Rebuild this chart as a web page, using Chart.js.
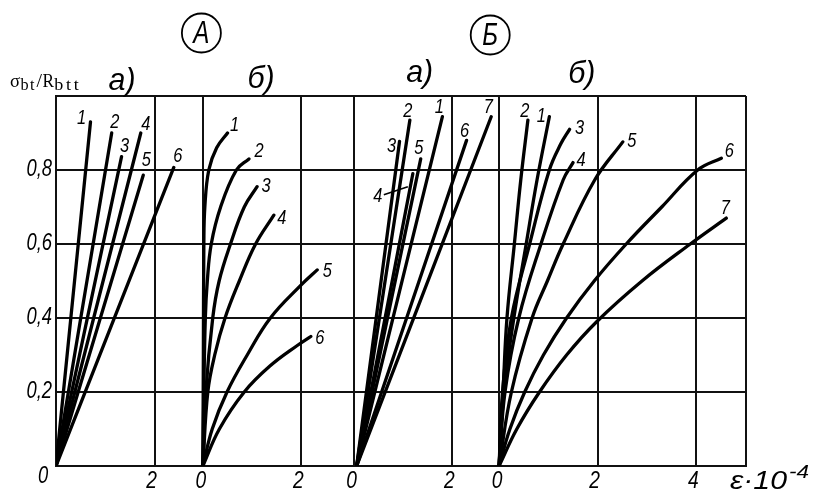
<!DOCTYPE html>
<html><head><meta charset="utf-8">
<script src="https://cdn.jsdelivr.net/npm/chart.js@4"></script>
<style>html,body{margin:0;padding:0;background:#fff}#c{display:block}</style>
</head><body>
<canvas id="c" width="813" height="493"></canvas>
<script>
// ---- data (strain ε·10^-4 on x, relative stress σbt/Rbtt on y) ----
const groupNames = ['А', 'Б'];
const panelNames = ['а)', 'б)', 'а)', 'б)'];
const panelStarts = [0, 2.98, 6.04, 8.99];   // where each panel's ε = 0 sits on the shared axis
const xMax = 14;
const panelLocalTicks = [[2], [2], [2], [2, 4]];
const yTickValues = [0, 0.2, 0.4, 0.6, 0.8, 1.0];
const yTickLabels = ['0', '0,2', '0,4', '0,6', '0,8', ''];

const namesAa = ['1', '2', '3', '4', '5', '6'];
const curvesAa = [
  [[0, 0], [0.70, 0.93]],
  [[0, 0], [1.13, 0.90]],
  [[0, 0], [1.33, 0.836]],
  [[0, 0], [1.72, 0.90]],
  [[0, 0], [1.77, 0.786]],
  [[0, 0], [2.39, 0.807]]
];
const namesAb = ['1', '2', '3', '4', '5', '6'];
const curvesAb = [
  [[0, 0], [0.01, 0.3], [0.02, 0.6], [0.04, 0.7], [0.12, 0.8], [0.28, 0.86], [0.50, 0.90]],
  [[0, 0], [0.02, 0.2], [0.05, 0.4], [0.09, 0.5], [0.17, 0.6], [0.36, 0.7], [0.68, 0.8], [0.935, 0.83]],
  [[0, 0], [0.06, 0.2], [0.20, 0.4], [0.33, 0.5], [0.56, 0.6], [0.84, 0.7], [1.10, 0.755]],
  [[0, 0], [0.10, 0.2], [0.24, 0.3], [0.45, 0.4], [0.74, 0.5], [1.07, 0.6], [1.44, 0.678]],
  [[0, 0], [0.19, 0.1], [0.49, 0.2], [0.90, 0.3], [1.37, 0.4], [2.0, 0.49], [2.32, 0.53]],
  [[0, 0], [0.335, 0.1], [0.84, 0.2], [1.36, 0.27], [1.93, 0.327], [2.19, 0.35]]
];
const namesBa = ['1', '2', '3', '4', '5', '6', '7'];
const curvesBa = [
  [[0.06, 0], [1.80, 0.944]],
  [[0.06, 0], [1.14, 0.935]],
  [[0.06, 0], [0.93, 0.877]],
  [[0.06, 0], [1.20, 0.79]],
  [[0.06, 0], [1.36, 0.83]],
  [[0.06, 0], [2.29, 0.88]],
  [[0.06, 0], [2.79, 0.944]]
];
const namesBb = ['1', '2', '3', '4', '5', '6', '7'];
const curvesBb = [
  [[0, 0], [0.10, 0.2], [0.30, 0.4], [0.55, 0.6], [0.77, 0.773], [1.02, 0.944]],
  [[0, 0], [0.08, 0.2], [0.16, 0.4], [0.31, 0.6], [0.44, 0.773], [0.585, 0.935]],
  [[0, 0], [0.07, 0.2], [0.25, 0.4], [0.62, 0.6], [1.02, 0.8], [1.25, 0.87], [1.43, 0.91]],
  [[0, 0], [0.12, 0.2], [0.40, 0.4], [0.85, 0.6], [1.30, 0.773], [1.50, 0.82]],
  [[0, 0], [0.25, 0.2], [0.67, 0.4], [0.98, 0.5], [1.30, 0.6], [1.94, 0.773], [2.51, 0.876]],
  [[0, 0], [0.22, 0.1], [0.52, 0.2], [0.90, 0.3], [1.37, 0.4], [1.93, 0.5], [2.58, 0.6], [3.30, 0.7], [4.03, 0.8], [4.51, 0.832]],
  [[0, 0], [0.36, 0.1], [0.82, 0.2], [1.37, 0.3], [1.98, 0.39], [2.90, 0.5], [3.88, 0.6], [4.61, 0.67]]
];

// ---- styles (label offsets in px from curve end) ----
const labelOffsets = [
  [[-9, -3], [3, -11], [3, -10], [5, -9], [3, -15], [4, -11]],
  [[7, -8], [10, -7], [9, 0], [8, 3], [10, 2], [9, 2]],
  [[-3, -9], [-2, -9], [-8, 5], [-35, 23], [-2, -10], [-2, -9], [-3, -9]],
  [[-8, 0], [-3, -9], [10, -1], [8, -2], [9, 0], [8, -7], [-1, -10]]
];
const panelCurves = [curvesAa, curvesAb, curvesBa, curvesBb];
const panelCurveNames = [namesAa, namesAb, namesBa, namesBb];
const titleLocalX = [1.34, 1.18, 1.34, 1.68];
const titleY = [81, 79, 73, 74];
const groupX = [2.95, 8.81];
const groupY = [33, 35];

const xTickValues = [];
panelStarts.forEach((s, p) => { xTickValues.push(s); panelLocalTicks[p].forEach(t => xTickValues.push(s + t)); });
xTickValues.push(xMax);

const datasets = [];
panelCurves.forEach((curves, p) => {
  curves.forEach((pts, i) => {
    datasets.push({
      label: panelNames[p] + ' ' + panelCurveNames[p][i],
      data: pts.map(([x, y]) => ({ x: panelStarts[p] + x, y: y })),
      showLine: true, borderColor: '#000', borderWidth: 3.3, pointRadius: 0,
      tension: 0.4, borderCapStyle: 'round', borderJoinStyle: 'round', fill: false,
      _panel: p, _idx: i
    });
  });
});

const FONT = '"Liberation Sans", Arial, sans-serif';
function txt(ctx, s, x, y, size, sx, align, italic) {
  ctx.save();
  ctx.translate(x, y);
  ctx.scale(sx, 1);
  ctx.font = (italic === false ? '' : 'italic ') + size + 'px ' + FONT;
  ctx.textAlign = align || 'center';
  ctx.textBaseline = 'middle';
  ctx.fillStyle = '#000';
  ctx.fillText(s, 0, 0);
  ctx.restore();
}
function fitText(ctx, s, x, baseY, font, width, spacing) {
  ctx.save();
  ctx.font = font;
  if (spacing && 'letterSpacing' in ctx) ctx.letterSpacing = spacing + 'px';
  const w = ctx.measureText(s).width;
  ctx.translate(x, baseY);
  ctx.scale(width / w, 1);
  ctx.textAlign = 'left';
  ctx.textBaseline = 'alphabetic';
  ctx.fillStyle = '#000';
  ctx.fillText(s, 0, 0);
  ctx.restore();
}

const annot = {
  id: 'annot',
  afterDraw(chart) {
    const ctx = chart.ctx, xs = chart.scales.x, ys = chart.scales.y;
    // curve numbers
    chart.data.datasets.forEach(ds => {
      const end = ds.data[ds.data.length - 1];
      const px = xs.getPixelForValue(end.x), py = ys.getPixelForValue(end.y);
      const off = labelOffsets[ds._panel][ds._idx];
      txt(ctx, panelCurveNames[ds._panel][ds._idx], px + off[0], py + off[1], 20, 0.82, 'center');
      if (ds._panel === 2 && ds._idx === 3) {
        ctx.save(); ctx.strokeStyle = '#000'; ctx.lineWidth = 1.6;
        ctx.beginPath(); ctx.moveTo(px + off[0] + 6, py + off[1] - 2); ctx.lineTo(px - 5, py + 13); ctx.stroke();
        ctx.restore();
      }
    });
    // y tick labels
    yTickValues.forEach((v, i) => {
      if (!yTickLabels[i]) return;
      if (v === 0) { txt(ctx, yTickLabels[i], 43, ys.getPixelForValue(0) + 11, 23, 0.8, 'center'); return; }
      txt(ctx, yTickLabels[i], 52, ys.getPixelForValue(v), 23, 0.8, 'right');
    });
    // x tick labels
    const by = ys.getPixelForValue(0) + 15;
    panelStarts.forEach((s, p) => {
      if (p > 0) txt(ctx, '0', xs.getPixelForValue(s) - 2, by, 24, 0.8, 'center');
      panelLocalTicks[p].forEach(t => txt(ctx, String(t), xs.getPixelForValue(s + t) - 3, by, 24, 0.8, 'center'));
    });
    // axis unit ε·10^-4
    fitText(ctx, 'ε·10', 730, by + 8, 'italic 25px ' + FONT, 57);
    fitText(ctx, '-4', 789, by - 3, 'italic 18px ' + FONT, 20);
    // panel titles
    panelStarts.forEach((s, p) => {
      txt(ctx, panelNames[p], xs.getPixelForValue(s + titleLocalX[p]), titleY[p], 32, 0.95, 'center');
    });
    // circled group letters
    groupNames.forEach((g, i) => {
      const cx = xs.getPixelForValue(groupX[i]), cy = groupY[i];
      ctx.save(); ctx.strokeStyle = '#000'; ctx.lineWidth = 1.8;
      ctx.beginPath(); ctx.arc(cx, cy, 19.5, 0, Math.PI * 2); ctx.stroke(); ctx.restore();
      txt(ctx, g, cx, cy + 1, 31, 0.78, 'center');
    });
    // y axis title σbt/Rbtt
    const serif = '"Liberation Serif", "Times New Roman", serif';
    fitText(ctx, 'σ', 10, 87, '19px ' + serif, 10);
    fitText(ctx, 'bt', 20.5, 90, '17px ' + serif, 15.5, 1.5);
    fitText(ctx, '/', 36.5, 87, '18px ' + serif, 5.5);
    fitText(ctx, 'R', 42.5, 87, '18px ' + serif, 11.5);
    fitText(ctx, 'btt', 54.3, 90, '17px ' + serif, 27, 2.5);
  }
};

new Chart(document.getElementById('c'), {
  type: 'scatter',
  data: { datasets },
  options: {
    responsive: false,
    animation: false,
    layout: { padding: { left: 56, right: 67, top: 96, bottom: 27 } },
    plugins: { legend: { display: false }, tooltip: { enabled: false } },
    scales: {
      x: {
        type: 'linear', min: 0, max: xMax,
        afterBuildTicks: s => { s.ticks = xTickValues.map(v => ({ value: v })); },
        ticks: { display: false },
        grid: { color: '#111', lineWidth: 2, drawTicks: false },
        border: { color: '#111', width: 2 }
      },
      y: {
        type: 'linear', min: 0, max: 1,
        afterBuildTicks: s => { s.ticks = yTickValues.map(v => ({ value: v })); },
        ticks: { display: false },
        grid: { color: '#111', lineWidth: 2, drawTicks: false },
        border: { color: '#111', width: 2 }
      }
    }
  },
  plugins: [annot]
});
</script>
</body></html>
